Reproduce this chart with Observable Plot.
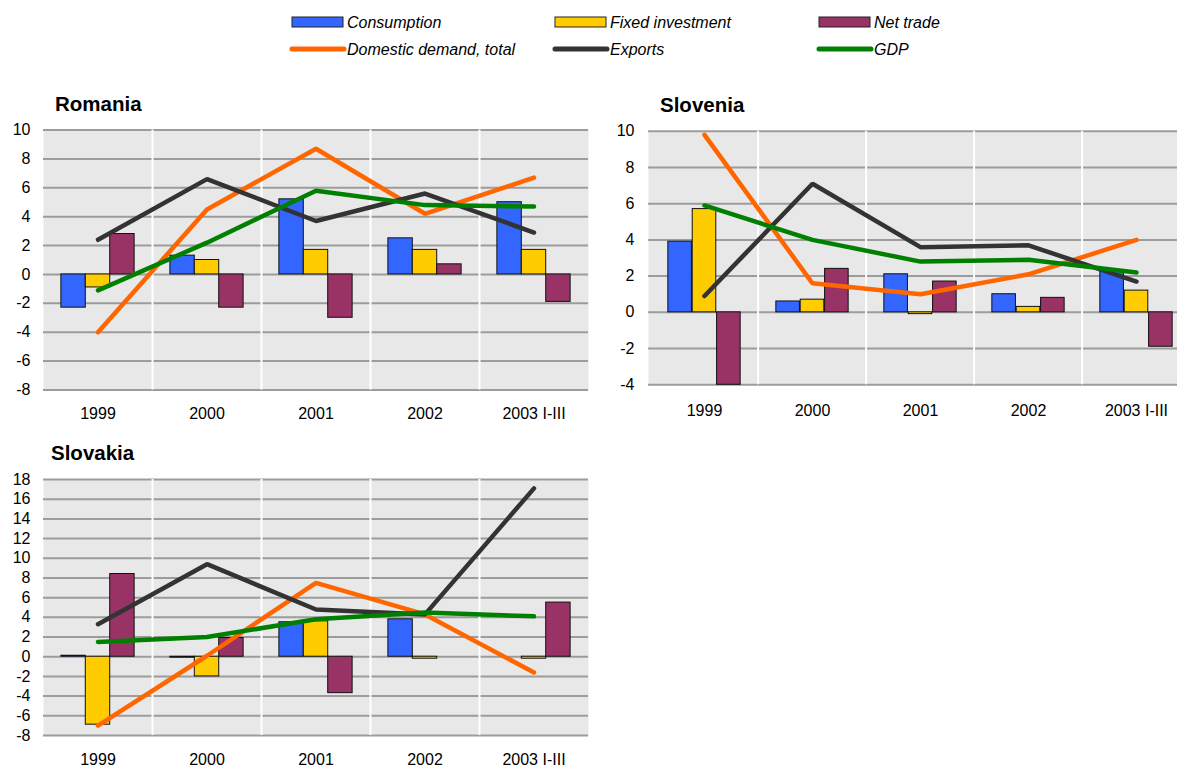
<!DOCTYPE html>
<html>
<head>
<meta charset="utf-8">
<script src="https://cdn.jsdelivr.net/npm/d3@7"></script>
<script src="https://cdn.jsdelivr.net/npm/@observablehq/plot@0.6"></script>
<style>
  body { margin: 0; background: #fff; font-family: "Liberation Sans", Arial, sans-serif; }
  #root { position: relative; width: 1177px; height: 767px; overflow: hidden; background: #fff; }
  .title { position: absolute; font-weight: bold; font-size: 20.5px; line-height: 1; color: #000; white-space: nowrap; }
  .panel { position: absolute; }
  .panel svg { overflow: visible; max-width: none !important; display: block; }
</style>
</head>
<body>
<div id="root"></div>
<script>
// Categories on the horizontal axis
const years = ["1999", "2000", "2001", "2002", "2003 I-III"];

// Romania, contributions / growth rates (%)
const roConsumption = [-2.3, 1.3, 5.2, 2.5, 5.0];
const roInvestment  = [-0.9, 1.0, 1.7, 1.7, 1.7];
const roNetTrade    = [2.8, -2.3, -3.0, 0.7, -1.9];
const roDomestic    = [-4.0, 4.5, 8.7, 4.2, 6.7];
const roExports     = [2.4, 6.6, 3.7, 5.6, 2.9];
const roGDP         = [-1.1, 2.2, 5.8, 4.8, 4.7];
const roTicks = [-8, -6, -4, -2, 0, 2, 4, 6, 8, 10];

// Slovenia
const siConsumption = [3.9, 0.6, 2.1, 1.0, 2.3];
const siInvestment  = [5.7, 0.7, -0.1, 0.3, 1.2];
const siNetTrade    = [-4.0, 2.4, 1.7, 0.8, -1.9];
const siDomestic    = [9.8, 1.6, 1.0, 2.1, 4.0];
const siExports     = [0.9, 7.1, 3.6, 3.7, 1.7];
const siGDP         = [5.9, 4.0, 2.8, 2.9, 2.2];
const siTicks = [-4, -2, 0, 2, 4, 6, 8, 10];

// Slovakia
const skConsumption = [0.1, -0.1, 3.5, 3.8, null];
const skInvestment  = [-6.9, -2.0, 3.6, -0.2, -0.2];
const skNetTrade    = [8.4, 1.9, -3.7, null, 5.5];
const skDomestic    = [-7.0, 0.1, 7.5, 4.3, -1.6];
const skExports     = [3.3, 9.4, 4.8, 4.3, 17.1];
const skGDP         = [1.5, 2.0, 3.8, 4.5, 4.1];
const skTicks = [-8, -6, -4, -2, 0, 2, 4, 6, 8, 10, 12, 14, 16, 18];

// Legend entries
const legendLabels = ["Consumption", "Fixed investment", "Net trade", "Domestic demand, total", "Exports", "GDP"];
const legendColors = ["#3366ff", "#ffcc00", "#993366", "#ff6600", "#333333", "#008000"];
const legendKinds  = ["bar", "bar", "bar", "line", "line", "line"];

const FONT = '"Liberation Sans", Arial, sans-serif';
const root = document.getElementById("root");

function drawPanel(cfg) {
  const bw = cfg.bandWidth;
  const plotW = bw * years.length;
  const barW = bw * 0.224;
  const inset = (bw - barW) / 2;
  const rows = values => years.map((year, i) => ({year, value: values[i]})).filter(d => d.value != null);

  const bars = [
    {values: cfg.consumption, fill: legendColors[0]},
    {values: cfg.investment, fill: legendColors[1]},
    {values: cfg.netTrade, fill: legendColors[2]}
  ];
  const lines = [
    {values: cfg.domestic, stroke: legendColors[3]},
    {values: cfg.exports, stroke: legendColors[4]},
    {values: cfg.gdp, stroke: legendColors[5]}
  ];

  const width = cfg.marginLeft + plotW + cfg.marginRight;
  const chart = Plot.plot({
    width,
    height: cfg.marginTop + cfg.plotH + cfg.marginBottom,
    marginLeft: cfg.marginLeft,
    marginRight: cfg.marginRight,
    marginTop: cfg.marginTop,
    marginBottom: cfg.marginBottom,
    style: {fontFamily: FONT, fontSize: "16px", color: "#000", background: "transparent"},
    x: {domain: years, padding: 0, tickSize: 0, tickPadding: cfg.xPad, label: null},
    y: {domain: [cfg.ticks[0], cfg.ticks[cfg.ticks.length - 1]], ticks: cfg.ticks, tickSize: 0,
        tickPadding: cfg.yPad, label: null, tickFormat: d => String(d)},
    marks: [
      Plot.frame({fill: "#e8e8e8", stroke: null}),
      Plot.ruleY(cfg.ticks, {stroke: "#9c9c9c", strokeWidth: 2}),
      Plot.ruleX(years.slice(1), {dx: -bw / 2, stroke: "#ffffff", strokeWidth: 2}),
      ...bars.map((s, k) => Plot.barY(rows(s.values), {
        x: "year", y: "value", fill: s.fill, stroke: "#111", strokeWidth: 1,
        insetLeft: inset, insetRight: inset, dx: (k - 1) * barW
      })),
      ...lines.map(s => Plot.lineY(rows(s.values), {
        x: "year", y: "value", stroke: s.stroke, strokeWidth: 4.5,
        strokeLinecap: "round", strokeLinejoin: "miter"
      }))
    ]
  });

  const holder = document.createElement("div");
  holder.className = "panel";
  holder.style.left = cfg.left + "px";
  holder.style.top = cfg.top + "px";
  holder.style.width = width + "px";
  holder.appendChild(chart);
  root.appendChild(holder);

  const title = document.createElement("div");
  title.className = "title";
  title.textContent = cfg.title;
  title.style.left = cfg.titleX + "px";
  title.style.top = cfg.titleY + "px";
  root.appendChild(title);
}

drawPanel({
  title: "Romania", titleX: 55, titleY: 93.5,
  left: 0, top: 110, marginLeft: 43, marginRight: 2, marginTop: 19.5, marginBottom: 40,
  plotH: 260, bandWidth: 109, xPad: 18, yPad: 13, ticks: roTicks,
  consumption: roConsumption, investment: roInvestment, netTrade: roNetTrade,
  domestic: roDomestic, exports: roExports, gdp: roGDP
});

drawPanel({
  title: "Slovenia", titleX: 660, titleY: 95,
  left: 600, top: 110, marginLeft: 48, marginRight: 8, marginTop: 20.7, marginBottom: 40,
  plotH: 253.6, bandWidth: 108.8, xPad: 20, yPad: 14, ticks: siTicks,
  consumption: siConsumption, investment: siInvestment, netTrade: siNetTrade,
  domestic: siDomestic, exports: siExports, gdp: siGDP
});

drawPanel({
  title: "Slovakia", titleX: 51, titleY: 443,
  left: 0, top: 460, marginLeft: 43, marginRight: 2, marginTop: 19, marginBottom: 40,
  plotH: 256, bandWidth: 109, xPad: 18.5, yPad: 13, ticks: skTicks,
  consumption: skConsumption, investment: skInvestment, netTrade: skNetTrade,
  domestic: skDomestic, exports: skExports, gdp: skGDP
});

// Legend: two rows of three entries across the top
const colX = [292, 555, 819];
const rowY = [22, 49];
const legend = d3.create("svg")
  .attr("width", 1177).attr("height", 70)
  .style("position", "absolute").style("left", "0px").style("top", "0px")
  .style("font-family", FONT);
legendLabels.forEach((label, i) => {
  const x = colX[i % 3], y = rowY[Math.floor(i / 3)];
  if (legendKinds[i] === "bar") {
    legend.append("rect").attr("x", x).attr("y", y - 5).attr("width", 51).attr("height", 10)
      .attr("fill", legendColors[i]).attr("stroke", "#222").attr("stroke-width", 1);
  } else {
    legend.append("line").attr("x1", x).attr("x2", x + 52).attr("y1", y).attr("y2", y)
      .attr("stroke", legendColors[i]).attr("stroke-width", 5).attr("stroke-linecap", "round");
  }
  legend.append("text").attr("x", x + 55).attr("y", y).attr("dy", "0.35em")
    .attr("font-size", 16).attr("font-style", "italic").attr("fill", "#000").text(label);
});
root.appendChild(legend.node());
</script>
</body>
</html>
